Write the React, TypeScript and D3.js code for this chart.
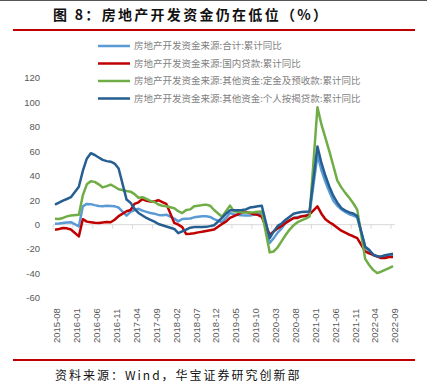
import React from "react";
import * as d3 from "d3";

const seriesNames = [
  "房地产开发资金来源:合计:累计同比",
  "房地产开发资金来源:国内贷款:累计同比",
  "房地产开发资金来源:其他资金:定金及预收款:累计同比",
  "房地产开发资金来源:其他资金:个人按揭贷款:累计同比",
];
const seriesColors = ["#5B9BD5", "#C00000", "#70AD47", "#255E91"];

// monthly categories 2015-08 .. 2022-09 (January values not published)
const months = d3.timeMonth.range(new Date(2015, 7, 1), new Date(2022, 9, 1));
const tickLabels = [
  "2015-08", "2016-01", "2016-06", "2016-11", "2017-04", "2017-09", "2018-02", "2018-07", "2018-12",
  "2019-05", "2019-10", "2020-03", "2020-08", "2021-01", "2021-06", "2021-11", "2022-04", "2022-09",
];
const yTicks = [-60, -40, -20, 0, 20, 40, 60, 80, 100, 120];

const total: (number | null)[] = [
  0.8, 1, 1.4, 1.8, 2,
  null,
  -1.4, 15, 17, 16.8, 16, 15.3, 15, 15.5, 15.3, 15, 14,
  null,
  7.4, 10.5, 12, 13, 11.5, 10.5, 9.5, 9, 8, 7.7, 8.2,
  null,
  5, 2.7, 4.6, 4.8, 5, 6, 6.5, 6.8, 6.8, 6.3, 4.5,
  null,
  2, 5.5, 9.5, 8.5, 8, 7.7, 7.5, 7.4, 8, 8.7, 8.5,
  null,
  -15, -11, -6.5, -3, 1.4, 3.5, 5.5, 6.3, 6.8, 7.5, 8.5,
  null,
  57, 44.5, 35, 27, 19.5, 15.5, 12.5, 10.5, 8.5, 7.5, 6,
  null,
  -18.5, -21.5, -25, -26, -26.5, -26, -25, -24.6,
];
const domesticLoans: (number | null)[] = [
  -4.1, -3.5, -2.7, -3, -4,
  null,
  -9.6, 4.5, 2.5, 2, 1.5, 1.3, 1.8, 2.2, 2, 4, 7,
  null,
  11, 12, 17, 18.3, 21, 19.5, 19, 19, 20, 18.5, 17,
  null,
  1.4, 0, -2, -7.7, -7.5, -7, -6.3, -5.8, -5.2, -4.6, -4,
  null,
  0.5, 2.5, 5.5, 7, 8.5, 10, 10.5, 9.6, 8.5, 8, 6.3,
  null,
  -8.2, -5.5, -3, -1, 1.5, 3.5, 5.5, 5.5, 6.8, 7, 8.5,
  null,
  15, 9, 4.5, 2, 0, -2.5, -4.9, -6.5, -8.2, -9.5, -11,
  null,
  -21.9, -23.5, -24.6, -26, -27.3, -27.3, -26.5, -26.5,
];
const deposits: (number | null)[] = [
  4.9, 4.6, 5.5, 6.8, 7.5,
  null,
  8.2, 24, 33, 35.5, 35, 33, 30.5, 31.5, 32.8, 31, 29,
  null,
  27.5, 27, 25, 22, 22.5, 21, 19.5, 18.5, 16.5, 15.5, 15,
  null,
  13.5, 11, 9.5, 12, 12.5, 15, 15.5, 16, 16.4, 15.5, 12,
  null,
  6.5, 11, 15.6, 11, 10.5, 10, 10, 10, 10.2, 10.5, 10.7,
  null,
  -22.7, -21.9, -18.5, -13.5, -8.5, -4, -0.5, 2, 3.5, 5, 6.5,
  null,
  96, 82, 71, 60, 48, 36, 30.5, 26, 22, 17.5, 12.3,
  null,
  -28, -33, -37, -39.6, -38.5, -37, -35.5, -34,
];
const mortgage: (number | null)[] = [
  16.4, 18, 19.7, 21, 22.5,
  null,
  31, 44, 54, 58.5, 57, 55, 53, 52, 51.5, 50, 46,
  null,
  20.5, 18, 13, 9.6, 7.5, 5.5, 4, 2.5, 0.5, -0.5, -1.5,
  null,
  -3.5, -7, -5.5, -4, -2.5, -2, -1.9, -1.9, -1.8, -1.2, -0.5,
  null,
  5.5, 9, 11.7, 11.7, 11.7, 12, 12.5, 14, 14.5, 15, 15.5,
  null,
  -11, -5.5, -1, 1, 4, 6.5, 9, 9.8, 10.4, 10.6, 10.8,
  null,
  64, 50.5, 40, 31, 23.5, 18, 13.7, 11.5, 10, 9.2, 7,
  null,
  -18, -20.5, -24.5, -25.8, -26, -25, -24.3, -23.8,
];

const allSeries = [total, domesticLoans, deposits, mortgage];

const W = 427;
const H = 391;

export default function App() {
  const n = months.length;
  const x = d3.scaleLinear().domain([-0.5, n - 0.5]).range([53, 395]);
  const y = d3.scaleLinear().domain([-60, 120]).range([298, 78]);
  const fmt = d3.timeFormat("%Y-%m");
  const labelIdx = months.map((m, i) => ({ m: fmt(m), i })).filter((d) => tickLabels.includes(d.m));

  const line = d3
    .line<{ i: number; v: number }>()
    .x((d) => x(d.i))
    .y((d) => y(d.v));

  const tickPositions = d3.range(-0.5, n, 5);

  return (
    <svg
      width={W}
      height={H}
      style={{ position: "absolute", left: 0, top: 0, background: "#fff" }}
    >
      <line x1={0} x2={W} y1={0.5} y2={0.5} stroke="#555" strokeWidth={1} />
      <text
        x={53}
        y={20}
        fontFamily="'Noto Sans CJK SC', sans-serif"
        fontWeight="bold"
        fontSize={14}
        letterSpacing={2.3}
        fill="#111"
      >
        图 8：房地产开发资金仍在低位（%）
      </text>
      <line x1={13} x2={415} y1={30} y2={30} stroke="#C00000" strokeWidth={2} />

      {/* y axis labels */}
      {yTicks.map((t) => (
        <text
          key={t}
          x={40}
          y={y(t)}
          dy="0.35em"
          textAnchor="end"
          fontFamily="'Liberation Sans', Arial, sans-serif"
          fontSize={9.5}
          fill="#595959"
        >
          {t}
        </text>
      ))}

      {/* zero axis */}
      <line x1={x(-0.5)} x2={x(n - 0.5)} y1={y(0)} y2={y(0)} stroke="#D9D9D9" strokeWidth={1} />
      {tickPositions.map((p) => (
        <line key={p} x1={x(p)} x2={x(p)} y1={y(0)} y2={y(0) + 4} stroke="#D9D9D9" strokeWidth={1} />
      ))}

      {/* x labels */}
      {labelIdx.map((d) => (
        <text
          key={d.m}
          transform={`translate(${x(d.i) + 2},${343}) rotate(-90)`}
          dy="0.35em"
          textAnchor="start"
          fontFamily="'Liberation Sans', Arial, sans-serif"
          fontSize={9.5}
          fill="#595959"
        >
          {d.m}
        </text>
      ))}

      {/* series lines */}
      {allSeries.map((s, k) => {
        const pts = s
          .map((v, i) => ({ i, v }))
          .filter((d) => d.v !== null) as { i: number; v: number }[];
        return (
          <path
            key={k}
            d={line(pts) || ""}
            fill="none"
            stroke={seriesColors[k]}
            strokeWidth={2.5}
            strokeLinejoin="round"
          />
        );
      })}

      {/* legend */}
      {seriesNames.map((name, k) => {
        const ly = 46 + k * 17.5;
        return (
          <g key={name}>
            <line x1={98} x2={130} y1={ly} y2={ly} stroke={seriesColors[k]} strokeWidth={2.5} />
            <text
              x={134}
              y={ly}
              dy="0.35em"
              fontFamily="'Noto Sans CJK SC', sans-serif"
              fontSize={9.5}
              fill="#7f7f7f"
            >
              {name}
            </text>
          </g>
        );
      })}

      <line x1={13} x2={415} y1={360} y2={360} stroke="#C00000" strokeWidth={2} />
      <text
        x={55}
        y={380}
        fontFamily="'Noto Sans CJK SC', sans-serif"
        fontSize={12}
        letterSpacing={2}
        fill="#111"
      >
        资料来源：Wind，华宝证券研究创新部
      </text>
    </svg>
  );
}
